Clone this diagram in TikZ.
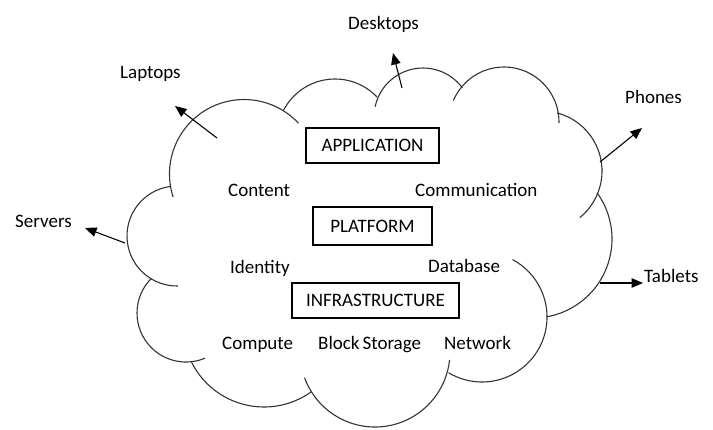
\documentclass[tikz,border=0pt]{standalone}
\usepackage{fontspec}
\setmainfont{Carlito}
\usetikzlibrary{arrows.meta}

% one lobe of the cloud: centre x, centre y, radius, start angle, end angle
\newcommand\cloudlobe[5]{%
  \draw[cloudline] (#1,#2) ++(#4:#3) arc[start angle=#4, end angle=#5, radius=#3];}

\begin{document}
\begin{tikzpicture}[x=1pt, y=-1pt,
  cloudline/.style={line width=1.1pt, black!80},
  label/.style={inner sep=0pt, anchor=base west, font=\fontsize{19}{22}\selectfont},
  layerbox/.style={draw, line width=1.1pt, inner sep=0pt,
    font=\fontsize{19}{22}\selectfont},
  device/.style={line width=1.1pt, -{Triangle[length=11.5pt, width=9.5pt]}}]

\useasboundingbox (0,0) rectangle (713,429);

% cloud outline, lobe by lobe, clockwise from the upper left
\cloudlobe{244}{174}{74.5}{-198}{-43}
\cloudlobe{335}{137}{58}{-152.6}{-43.6}
\cloudlobe{423}{117}{49}{-168}{-36.6}
\cloudlobe{504}{122}{55}{-157}{1}
\cloudlobe{542}{171}{60}{-75.5}{51}
\cloudlobe{533}{239}{79}{-35.7}{80}
\cloudlobe{482}{317}{65}{-62}{121}
\cloudlobe{375}{352}{75}{-200}{-354}
\cloudlobe{264}{326}{81}{-206.6}{-306}
\cloudlobe{186}{313}{49}{-135}{-293}
\cloudlobe{177}{236}{50}{-98}{-271}

% service layers
\node[layerbox, minimum width=133pt, minimum height=35pt] (app) at (372.5,145.5) {APPLICATION};
\node[layerbox, minimum width=119pt, minimum height=38pt] (plat) at (372.5,226) {PLATFORM};
\node[layerbox, minimum width=167pt, minimum height=35pt] (infra) at (375.5,300.5) {INFRASTRUCTURE};

% services inside the cloud
\node[label] (content) at (228,196) {Content};
\node[label] (comm) at (415,196) {Communication};
\node[label] (ident) at (230,273) {Identity};
\node[label] (db) at (428,272) {Database};
\node[label] (compute) at (222,349) {Compute};
\node[label] (storage) at (318,349) {Block\hspace{3pt}Storage};
\node[label] (network) at (444,349) {Network};

% client devices outside the cloud
\node[label] (desktops) at (348,29) {Desktops};
\node[label] (laptops) at (120,78) {Laptops};
\node[label] (phones) at (625,103) {Phones};
\node[label] (servers) at (15,227) {Servers};
\node[label] (tablets) at (644,282) {Tablets};

% arrow ends
\coordinate (laptopsFrom) at (217,138);
\coordinate (laptopsTo) at (175,106);
\coordinate (desktopsFrom) at (402,88);
\coordinate (desktopsTo) at (393,53);
\coordinate (phonesFrom) at (600,162);
\coordinate (phonesTo) at (642,128);
\coordinate (tabletsFrom) at (600,283);
\coordinate (tabletsTo) at (643,283);
\coordinate (serversFrom) at (125,243);
\coordinate (serversTo) at (85,228);

\draw[device] (laptopsFrom) -- (laptopsTo);
\draw[device] (desktopsFrom) -- (desktopsTo);
\draw[device] (phonesFrom) -- (phonesTo);
\draw[device] (tabletsFrom) -- (tabletsTo);
\draw[device] (serversFrom) -- (serversTo);
\end{tikzpicture}
\end{document}
